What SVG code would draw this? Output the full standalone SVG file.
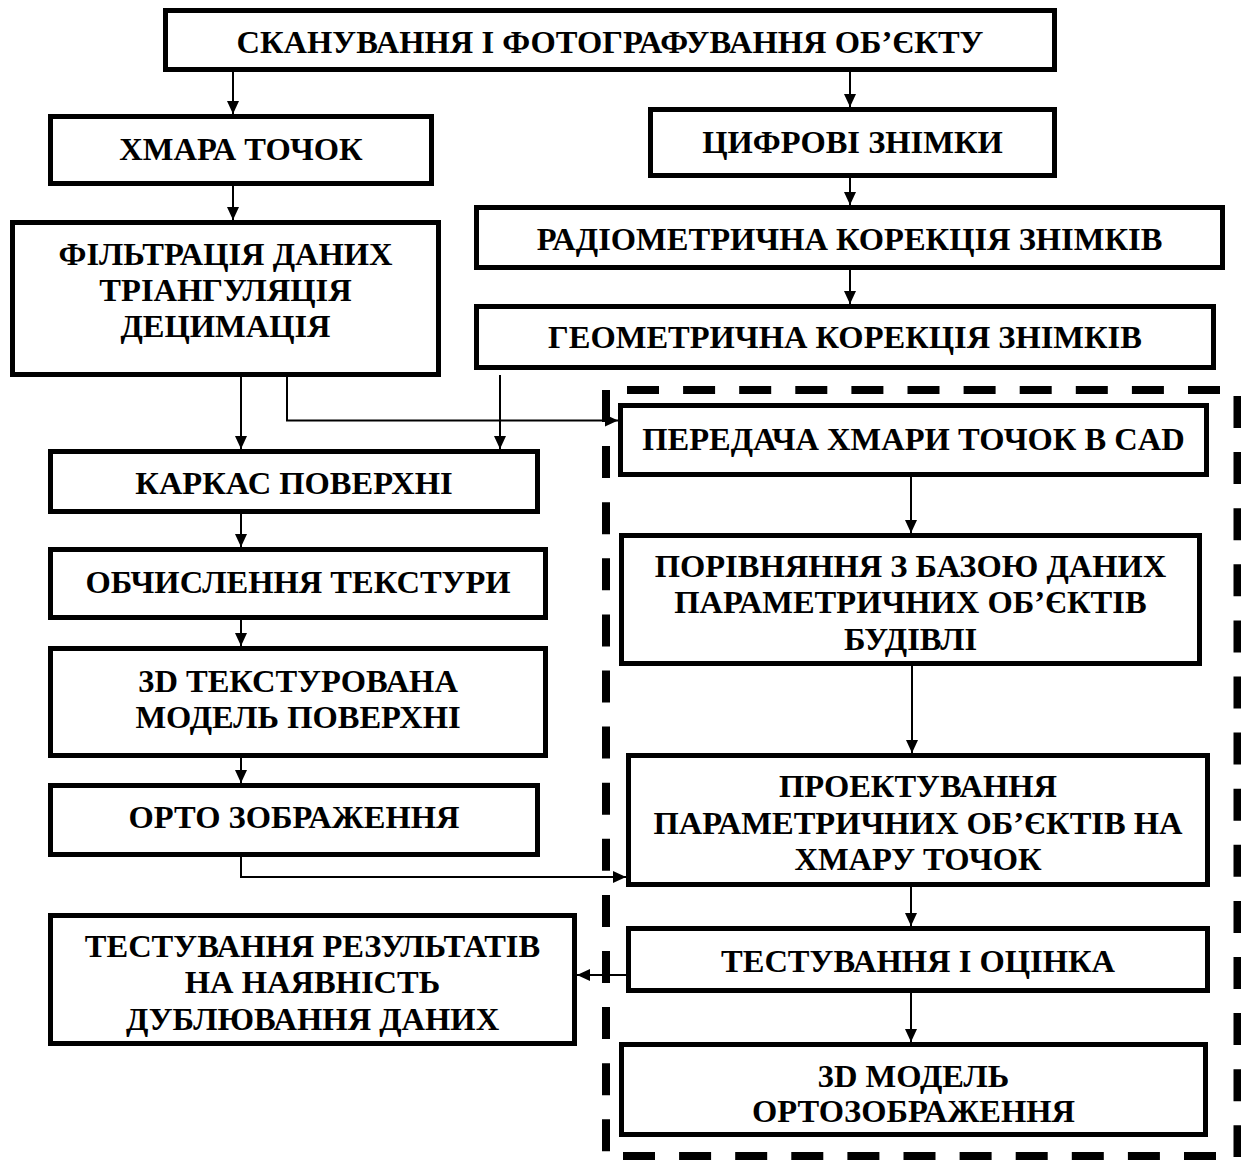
<svg xmlns="http://www.w3.org/2000/svg" width="1241" height="1160" viewBox="0 0 1241 1160">
<defs>
<style>
.box{fill:#fff;stroke:#000;stroke-width:5}
.t{font-family:"Liberation Serif","Times New Roman",serif;font-weight:bold;font-size:32.5px;text-anchor:middle;fill:#000}
.c{fill:none;stroke:#000;stroke-width:2}
.d{fill:none;stroke:#000;stroke-width:8;stroke-dasharray:32 24.1}
</style>
<marker id="ah" markerUnits="userSpaceOnUse" markerWidth="13" markerHeight="12" refX="13" refY="6" orient="auto">
<path d="M0,0 L13,6 L0,12 z" fill="#000"/>
</marker>
</defs>
<rect width="1241" height="1160" fill="#fff"/>
<g id="frame">
<line class="d" x1="627" y1="390" x2="1222" y2="390"/>
<line class="d" x1="623" y1="1156" x2="1218" y2="1156"/>
<line class="d" x1="606" y1="390" x2="606" y2="1152"/>
<line class="d" x1="1237.5" y1="396" x2="1237.5" y2="1157"/>
</g>
<g id="connectors">
<line class="c" x1="233" y1="72" x2="233" y2="114" marker-end="url(#ah)"/>
<line class="c" x1="850" y1="72" x2="850" y2="107" marker-end="url(#ah)"/>
<line class="c" x1="233" y1="186" x2="233" y2="220" marker-end="url(#ah)"/>
<line class="c" x1="850" y1="178" x2="850" y2="205" marker-end="url(#ah)"/>
<line class="c" x1="850" y1="270" x2="850" y2="304" marker-end="url(#ah)"/>
<line class="c" x1="241" y1="377" x2="241" y2="449" marker-end="url(#ah)"/>
<polyline class="c" points="287,377 287,420.5 618,420.5" marker-end="url(#ah)"/>
<line class="c" x1="500" y1="375" x2="500" y2="449" marker-end="url(#ah)"/>
<line class="c" x1="241" y1="514" x2="241" y2="547" marker-end="url(#ah)"/>
<line class="c" x1="241" y1="620" x2="241" y2="646" marker-end="url(#ah)"/>
<line class="c" x1="241" y1="758" x2="241" y2="783" marker-end="url(#ah)"/>
<polyline class="c" points="241,857 241,877 626,877" marker-end="url(#ah)"/>
<line class="c" x1="911" y1="477" x2="911" y2="533" marker-end="url(#ah)"/>
<line class="c" x1="912" y1="666" x2="912" y2="753" marker-end="url(#ah)"/>
<line class="c" x1="911" y1="887" x2="911" y2="926" marker-end="url(#ah)"/>
<line class="c" x1="626" y1="975" x2="577" y2="975" marker-end="url(#ah)"/>
<line class="c" x1="911" y1="993" x2="911" y2="1042" marker-end="url(#ah)"/>
</g>
<g id="n1"><rect class="box" x="165.5" y="10.5" width="889" height="59"/><text class="t" x="610" y="53">СКАНУВАННЯ І ФОТОГРАФУВАННЯ ОБ’ЄКТУ</text></g>
<g id="n2"><rect class="box" x="50.5" y="116.5" width="381" height="67"/><text class="t" x="241" y="160">ХМАРА ТОЧОК</text></g>
<g id="n3"><rect class="box" x="12.5" y="222.5" width="426" height="152"/><text class="t" x="225.5" y="265">ФІЛЬТРАЦІЯ ДАНИХ</text><text class="t" x="225.5" y="301">ТРІАНГУЛЯЦІЯ</text><text class="t" x="225.5" y="337">ДЕЦИМАЦІЯ</text></g>
<g id="n4"><rect class="box" x="650.5" y="109.5" width="404" height="66"/><text class="t" x="852.5" y="153">ЦИФРОВІ ЗНІМКИ</text></g>
<g id="n5"><rect class="box" x="476.5" y="207.5" width="746" height="60"/><text class="t" x="849.5" y="250">РАДІОМЕТРИЧНА КОРЕКЦІЯ ЗНІМКІВ</text></g>
<g id="n6"><rect class="box" x="476.5" y="306.5" width="737" height="61"/><text class="t" x="845" y="348">ГЕОМЕТРИЧНА КОРЕКЦІЯ ЗНІМКІВ</text></g>
<g id="n7"><rect class="box" x="50.5" y="451.5" width="487" height="60"/><text class="t" x="294" y="494">КАРКАС ПОВЕРХНІ</text></g>
<g id="n8"><rect class="box" x="50.5" y="549.5" width="495" height="68"/><text class="t" x="298" y="593">ОБЧИСЛЕННЯ ТЕКСТУРИ</text></g>
<g id="n9"><rect class="box" x="50.5" y="648.5" width="495" height="107"/><text class="t" x="298" y="692">3D ТЕКСТУРОВАНА</text><text class="t" x="298" y="728">МОДЕЛЬ ПОВЕРХНІ</text></g>
<g id="n10"><rect class="box" x="50.5" y="785.5" width="487" height="69"/><text class="t" x="294" y="828">ОРТО ЗОБРАЖЕННЯ</text></g>
<g id="n11"><rect class="box" x="50.5" y="915.5" width="524" height="128"/><text class="t" x="312.5" y="957">ТЕСТУВАННЯ РЕЗУЛЬТАТІВ</text><text class="t" x="312.5" y="993">НА НАЯВНІСТЬ</text><text class="t" x="312.5" y="1030">ДУБЛЮВАННЯ ДАНИХ</text></g>
<g id="n12"><rect class="box" x="620.5" y="405.5" width="586" height="69"/><text class="t" x="913.5" y="450">ПЕРЕДАЧА ХМАРИ ТОЧОК В CAD</text></g>
<g id="n13"><rect class="box" x="621.5" y="535.5" width="578" height="128"/><text class="t" x="910.5" y="577">ПОРІВНЯННЯ З БАЗОЮ ДАНИХ</text><text class="t" x="910.5" y="613">ПАРАМЕТРИЧНИХ ОБ’ЄКТІВ</text><text class="t" x="910.5" y="650">БУДІВЛІ</text></g>
<g id="n14"><rect class="box" x="628.5" y="755.5" width="579" height="129"/><text class="t" x="918" y="797">ПРОЕКТУВАННЯ</text><text class="t" x="918" y="834">ПАРАМЕТРИЧНИХ ОБ’ЄКТІВ НА</text><text class="t" x="918" y="870">ХМАРУ ТОЧОК</text></g>
<g id="n15"><rect class="box" x="628.5" y="928.5" width="579" height="62"/><text class="t" x="918" y="972">ТЕСТУВАННЯ І ОЦІНКА</text></g>
<g id="n16"><rect class="box" x="621.5" y="1044.5" width="584" height="90"/><text class="t" x="913.5" y="1087">3D МОДЕЛЬ</text><text class="t" x="913.5" y="1122">ОРТОЗОБРАЖЕННЯ</text></g>
</svg>
